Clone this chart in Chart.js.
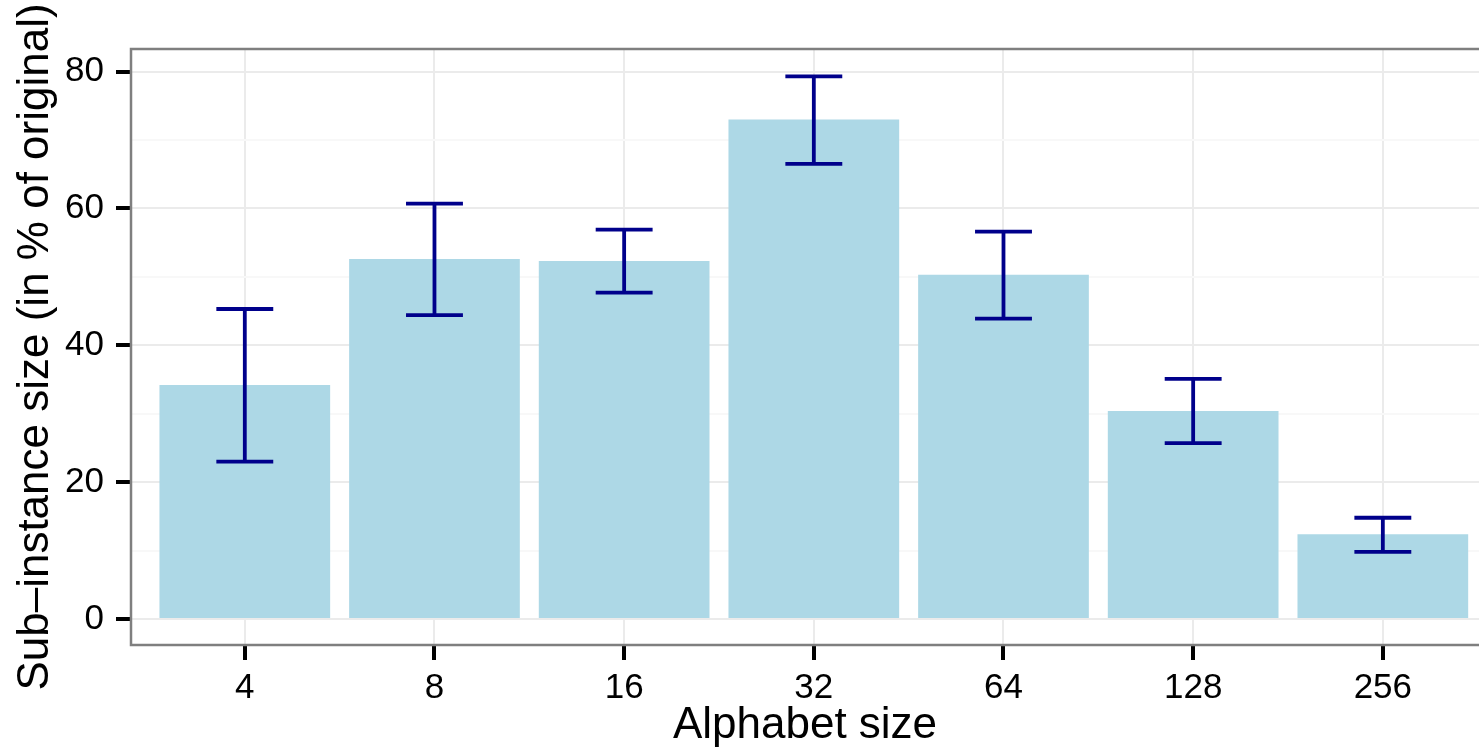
<!DOCTYPE html>
<html>
<head>
<meta charset="utf-8">
<script src="https://cdn.jsdelivr.net/npm/chart.js@4.4.1/dist/chart.umd.min.js"></script>
<style>
  html, body { margin: 0; padding: 0; background: #fff; overflow: hidden; }
  canvas { display: block; }
</style>
</head>
<body>
<canvas id="subChart" width="1479" height="753"></canvas>
<script>
// alphabet sizes on the x axis
const alphabetSizes = ["4", "8", "16", "32", "64", "128", "256"];
// mean sub-instance size, % of original
const meanSize = [34.2, 52.6, 52.3, 73.0, 50.3, 30.4, 12.4];
// error bar ends
const errLow  = [23.0, 44.4, 47.7, 66.5, 43.9, 25.7, 9.8];
const errHigh = [45.3, 60.7, 56.9, 79.3, 56.6, 35.1, 14.8];
// y tick values (major every 20, minor in between)
const yTicks = [0, 10, 20, 30, 40, 50, 60, 70, 80];

const FONT = "'Liberation Sans', Arial, Helvetica, sans-serif";

// panel border + error bars, drawn over the bars
const ggExtras = {
  id: "ggExtras",
  afterDatasetsDraw(chart) {
    const ctx = chart.ctx;
    const xs = chart.scales.x;
    const ys = chart.scales.y;

    ctx.save();
    ctx.strokeStyle = "#00008b";
    ctx.lineWidth = 3.8;
    ctx.lineCap = "butt";
    errLow.forEach((lo, i) => {
      const cx = xs.getPixelForValue(i);
      const x0 = xs.getPixelForValue(i - 0.15);
      const x1 = xs.getPixelForValue(i + 0.15);
      const yLo = ys.getPixelForValue(lo);
      const yHi = ys.getPixelForValue(errHigh[i]);
      ctx.beginPath();
      ctx.moveTo(cx, yLo); ctx.lineTo(cx, yHi);
      ctx.moveTo(x0, yLo); ctx.lineTo(x1, yLo);
      ctx.moveTo(x0, yHi); ctx.lineTo(x1, yHi);
      ctx.stroke();
    });

    // panel border (grey50)
    const a = chart.chartArea;
    ctx.strokeStyle = "#7f7f7f";
    ctx.lineWidth = 2.5;
    ctx.strokeRect(a.left, a.top, a.right - a.left + 20, a.bottom - a.top);
    ctx.restore();
  }
};

new Chart(document.getElementById("subChart"), {
  type: "bar",
  data: {
    datasets: [{
      data: meanSize.map((v, i) => ({ x: i, y: v })),
      backgroundColor: "#add8e6",
      borderWidth: 0,
      categoryPercentage: 0.9,
      barPercentage: 1.0
    }]
  },
  options: {
    responsive: false,
    animation: false,
    layout: { padding: { top: 49, right: 0, bottom: 0, left: 0 } },
    plugins: {
      legend: { display: false },
      tooltip: { enabled: false }
    },
    scales: {
      x: {
        type: "linear",
        offset: false,
        min: -0.6,
        max: 6.507,
        afterBuildTicks: (scale) => {
          scale.ticks = alphabetSizes.map((_, i) => ({ value: i }));
        },
        afterFit: (scale) => { scale.height = 108; },
        ticks: {
          autoSkip: false,
          maxRotation: 0,
          padding: 7,
          color: "#000",
          font: { family: FONT, size: 35 },
          callback: (v) => alphabetSizes[v]
        },
        grid: {
          offset: false,
          color: "#ebebeb",
          lineWidth: 2,
          drawTicks: true,
          tickLength: 15,
          tickWidth: 4,
          tickColor: "#000"
        },
        border: { display: false },
        title: {
          display: true,
          text: "Alphabet size",
          color: "#000",
          font: { family: FONT, size: 44 },
          padding: { top: 0, bottom: 1 }
        }
      },
      y: {
        min: -3.8,
        max: 83.3,
        afterBuildTicks: (scale) => {
          scale.ticks = yTicks.map(v => ({ value: v }));
        },
        afterFit: (scale) => { scale.width = 131; },
        ticks: {
          padding: 12,
          color: "#000",
          font: { family: FONT, size: 35 },
          callback: (v) => (v % 20 === 0 ? String(v) : "")
        },
        grid: {
          color: (c) => (c.tick && c.tick.value % 20 !== 0 ? "#f8f8f8" : "#ebebeb"),
          lineWidth: 2,
          drawTicks: true,
          tickLength: 15,
          tickWidth: 4,
          tickColor: (c) => (c.tick && c.tick.value % 20 !== 0 ? "rgba(0,0,0,0)" : "#000")
        },
        border: { display: false },
        title: {
          display: true,
          text: "Sub–instance size (in % of original)",
          color: "#000",
          font: { family: FONT, size: 44 },
          padding: { top: 9, bottom: 0 }
        }
      }
    }
  },
  plugins: [ggExtras]
});
</script>
</body>
</html>
